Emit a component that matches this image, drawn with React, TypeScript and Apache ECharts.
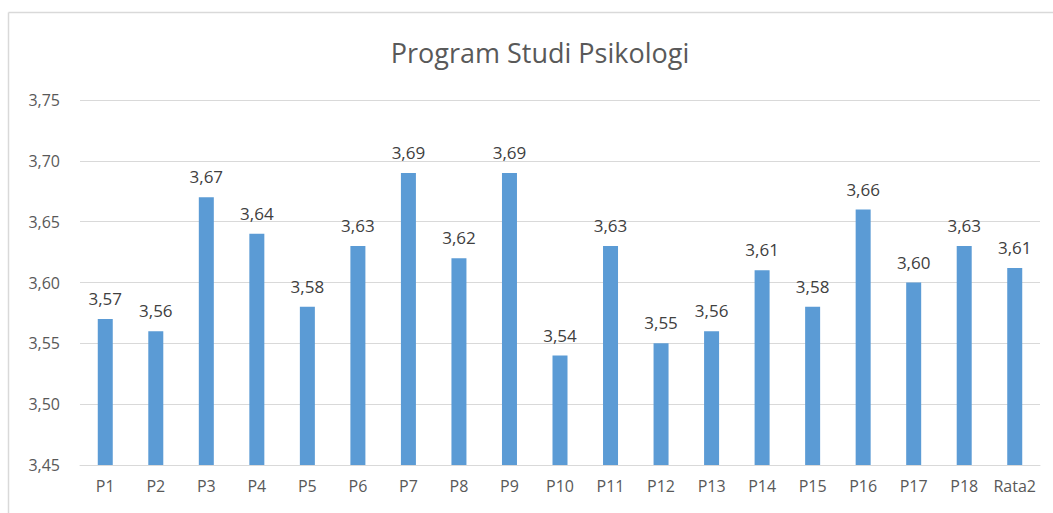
import React, { useEffect, useRef } from "react";
import * as echarts from "echarts";

const categories = ["P1","P2","P3","P4","P5","P6","P7","P8","P9","P10","P11","P12","P13","P14","P15","P16","P17","P18","Rata2"];
const values = [3.57,3.56,3.67,3.64,3.58,3.63,3.69,3.62,3.69,3.54,3.63,3.55,3.56,3.61,3.58,3.66,3.60,3.63,3.612];
const titleText = "Program Studi Psikologi";

const fmt = (v: number) => v.toFixed(2).replace(".", ",");

export default function App() {
  const ref = useRef<HTMLDivElement>(null);
  useEffect(() => {
    const chart = echarts.init(ref.current!, null, { renderer: "svg" });
    const font = "'Open Sans', 'Noto Sans', sans-serif";
    chart.setOption({
      animation: false,
      backgroundColor: "#ffffff",
      title: {
        text: titleText,
        left: 535,
        top: 34,
        textAlign: "center",
        textStyle: { fontFamily: font, fontSize: 27, fontWeight: "normal", color: "#595959" },
      },
      graphic: [
        { type: "line", shape: { x1: 8.5, y1: 12.5, x2: 1060, y2: 12.5 }, style: { stroke: "#d9d9d9", lineWidth: 1.5 } },
        { type: "line", shape: { x1: 8.5, y1: 12.5, x2: 8.5, y2: 520 }, style: { stroke: "#d9d9d9", lineWidth: 1.5 } },
      ],
      grid: { left: 80, right: 13, top: 100, bottom: 48 },
      xAxis: {
        type: "category",
        data: categories,
        axisTick: { show: false },
        axisLine: { lineStyle: { color: "#d9d9d9", width: 1 } },
        axisLabel: { color: "#595959", fontFamily: font, fontSize: 16, margin: 13, interval: 0 },
      },
      yAxis: {
        type: "value",
        min: 3.45,
        max: 3.75,
        interval: 0.05,
        axisLine: { show: false },
        axisTick: { show: false },
        splitLine: { lineStyle: { color: "#d9d9d9", width: 1 } },
        axisLabel: { color: "#595959", fontFamily: font, fontSize: 16, margin: 20, formatter: (v: number) => fmt(v) },
      },
      series: [
        {
          type: "bar",
          data: values,
          barWidth: 15,
          itemStyle: { color: "#5b9bd5" },
          label: {
            show: true,
            position: "top",
            distance: 12,
            color: "#404040",
            fontFamily: font,
            fontSize: 17,
            formatter: (p: any) => fmt(p.value),
          },
        },
      ],
    });
    return () => chart.dispose();
  }, []);
  return <div ref={ref} style={{ position: "absolute", left: 0, top: 0, width: 1053, height: 513 }} />;
}
